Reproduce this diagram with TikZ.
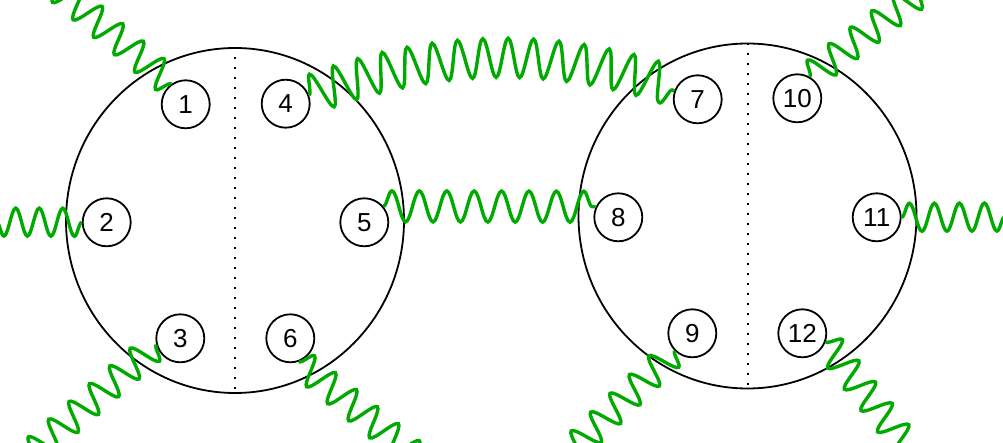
\documentclass[tikz,border=0pt]{standalone}
\usepackage{fontspec}
\setmainfont{Liberation Sans}
\usetikzlibrary{decorations.pathmorphing, shapes.geometric}
\definecolor{wavegreen}{RGB}{0,170,0}

\begin{document}
\begin{tikzpicture}[x=1pt, y=-1pt,
  ring/.style={draw, ellipse, line width=1.8pt, minimum width=338pt, minimum height=345pt, inner sep=0pt},
  site/.style={draw, circle, line width=1.8pt, minimum size=48pt, inner sep=0pt, font=\fontsize{26}{28}\selectfont},
  split/.style={line width=2pt, dash pattern=on 2pt off 8pt},
  wave/.style={wavegreen, line width=3.4pt, decorate, decoration={snake, amplitude=14.5pt, segment length=27pt}}
]
\useasboundingbox (0,0) rectangle (1003,443);
\clip (0,0) rectangle (1003,443);
% two rings, each split in half
\node[ring] (ringL) at (235,220.5) {};
\node[ring] (ringR) at (747.5,216) {};
\draw[split] (ringL.north) -- (ringL.south);
\draw[split] (ringR.north) -- (ringR.south);
% sites of the left ring
\node[site] (n1) at (185.7,104.3) {1};
\node[site] (n2) at (106.7,222.3) {2};
\node[site] (n3) at (180.3,338.3) {3};
\node[site] (n4) at (285.7,103.7) {4};
\node[site] (n5) at (364.3,222.3) {5};
\node[site] (n6) at (290.3,338.3) {6};
% sites of the right ring
\node[site] (n7) at (697.7,99.3) {7};
\node[site] (n8) at (618.3,217.3) {8};
\node[site] (n9) at (692.3,333.3) {9};
\node[site] (n10) at (797.3,98.3) {10};
\node[site] (n11) at (876.7,217.3) {11};
\node[site] (n12) at (802.3,333.3) {12};
% free ends outside the frame
\coordinate (e1) at (52,-17);
\coordinate (e2) at (-10,222);
\coordinate (e3) at (24,460);
\coordinate (e6) at (420,460);
\coordinate (e9) at (562,460);
\coordinate (e10) at (932,-17);
\coordinate (e11) at (1010,217);
\coordinate (e12) at (918,460);
% links
\draw[wave, decoration={amplitude=19.5pt, segment length=24.5pt}]
  (n4.20) .. controls (431,50) and (552,48) .. (n7.160);
\draw[wave, decoration={amplitude=15.5pt, segment length=27.4pt}] (n5.40) -- (n8.155);
\draw[wave] (n1.125) -- (e1);
\draw[wave, decoration={amplitude=14pt, segment length=23.5pt}] (n2.west) -- (e2);
\draw[wave] (n3.195) -- (e3);
\draw[wave] (n6.-70) -- (e6);
\draw[wave] (n9.225) -- (e9);
\draw[wave] (n10.60) -- (e10);
\draw[wave, decoration={amplitude=14pt, segment length=25pt}] (n11.east) -- (e11);
\draw[wave] (n12.-20) -- (e12);
\end{tikzpicture}
\end{document}
